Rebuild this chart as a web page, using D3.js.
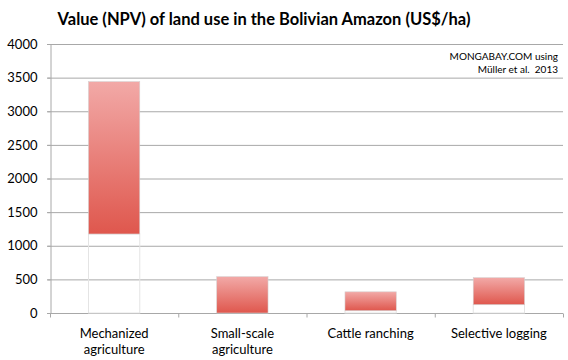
<!DOCTYPE html>
<html><head><meta charset="utf-8">
<script src="https://cdn.jsdelivr.net/npm/d3@7"></script>
<style>body{margin:0;background:#fff;} svg{display:block;font-family:Lato,"Open Sans",sans-serif;} text{white-space:pre;}</style>
</head><body>
<script>
const categories = ["Mechanized\nagriculture", "Small-scale\nagriculture", "Cattle ranching", "Selective logging"];
const lowValues = [1175, 0, 35, 125];
const highValues = [3440, 540, 315, 525];
const yTicks = [0, 500, 1000, 1500, 2000, 2500, 3000, 3500, 4000];
const title = "Value (NPV) of land use in the Bolivian Amazon (US$/ha)";
const note = ["MONGABAY.COM using", "Müller et al.  2013"];

const W = 568, H = 360;
const m = {left: 50, right: 5, top: 44, bottom: 47};
const svg = d3.select("body").append("svg").attr("width", W).attr("height", H);
const defs = svg.append("defs");
const grad = defs.append("linearGradient").attr("id", "g").attr("x1", 0).attr("y1", 0).attr("x2", 0).attr("y2", 1);
grad.append("stop").attr("offset", "0%").attr("stop-color", "#f2a9a7");
grad.append("stop").attr("offset", "100%").attr("stop-color", "#df574d");

const x = d3.scaleBand().domain(categories).range([m.left, W - m.right]).paddingInner(0).paddingOuter(0);
const y = d3.scaleLinear().domain([0, 4000]).range([H - m.bottom, m.top]);

// gridlines
svg.append("g").selectAll("line").data(yTicks.filter(d => d > 0)).join("line")
  .attr("x1", m.left - 3).attr("x2", W - m.right)
  .attr("y1", d => y(d) + 0.5).attr("y2", d => y(d) + 0.5)
  .attr("stroke", "#a8a8a8").attr("stroke-width", 1);

// y axis
const ya = svg.append("g").attr("transform", `translate(${m.left + 0.5},0)`)
  .call(d3.axisLeft(y).tickValues(yTicks).tickFormat(d3.format("d")).tickSize(3).tickPadding(10));
ya.select(".domain").attr("stroke", "#a8a8a8");
ya.selectAll(".tick line").attr("stroke", "#a8a8a8");
ya.selectAll(".tick text").attr("font-size", 13).attr("fill", "#000").attr("font-family", "Lato, sans-serif");

// x axis
const xa = svg.append("g").attr("transform", `translate(0,${y(0) + 0.5})`);
xa.append("line").attr("x1", m.left - 3).attr("x2", W - m.right).attr("stroke", "#a8a8a8");
xa.selectAll(".tk").data(categories).join("line").attr("class", "tk")
  .attr("x1", d => x(d) + x.bandwidth() + 0.5).attr("x2", d => x(d) + x.bandwidth() + 0.5)
  .attr("y1", 0).attr("y2", 4).attr("stroke", "#a8a8a8");
xa.append("line").attr("x1", m.left + 0.5).attr("x2", m.left + 0.5).attr("y1", 0).attr("y2", 4).attr("stroke", "#a8a8a8");

const bw = x.bandwidth() * 0.4;
const bx = d => x(d) + (x.bandwidth() - bw) / 2;

// invisible base bars
svg.append("g").selectAll("rect").data(categories).join("rect")
  .attr("x", d => bx(d)).attr("width", bw)
  .attr("y", (d, i) => y(lowValues[i])).attr("height", (d, i) => y(0) - y(lowValues[i]))
  .attr("fill", "none").attr("stroke", "#e4e4e4").attr("stroke-width", 1);

// range bars
svg.append("g").selectAll("rect").data(categories).join("rect")
  .attr("x", d => bx(d)).attr("width", bw)
  .attr("y", (d, i) => y(highValues[i])).attr("height", (d, i) => y(lowValues[i]) - y(highValues[i]))
  .attr("fill", "url(#g)").attr("stroke", "#d8d0d0").attr("stroke-width", 0.6);

// category labels
svg.append("g").selectAll("text").data(categories).join("text")
  .attr("x", d => x(d) + x.bandwidth() / 2).attr("y", 338)
  .attr("text-anchor", "middle").attr("font-size", 13).attr("fill", "#000")
  .selectAll("tspan").data(d => d.split("\n")).join("tspan")
  .attr("x", function() { return d3.select(this.parentNode).attr("x"); })
  .attr("dy", (d, i) => i ? 16 : 0).text(d => d);

// title
svg.append("text").attr("x", 264).attr("y", 25).attr("text-anchor", "middle")
  .attr("font-size", 16.5).attr("font-weight", "bold").attr("fill", "#000").text(title);

// note
svg.append("g").selectAll("text").data(note).join("text")
  .attr("x", 558).attr("y", (d, i) => 60 + i * 13).attr("text-anchor", "end")
  .attr("font-size", 10).attr("fill", "#000").text(d => d);
</script>
</body></html>
